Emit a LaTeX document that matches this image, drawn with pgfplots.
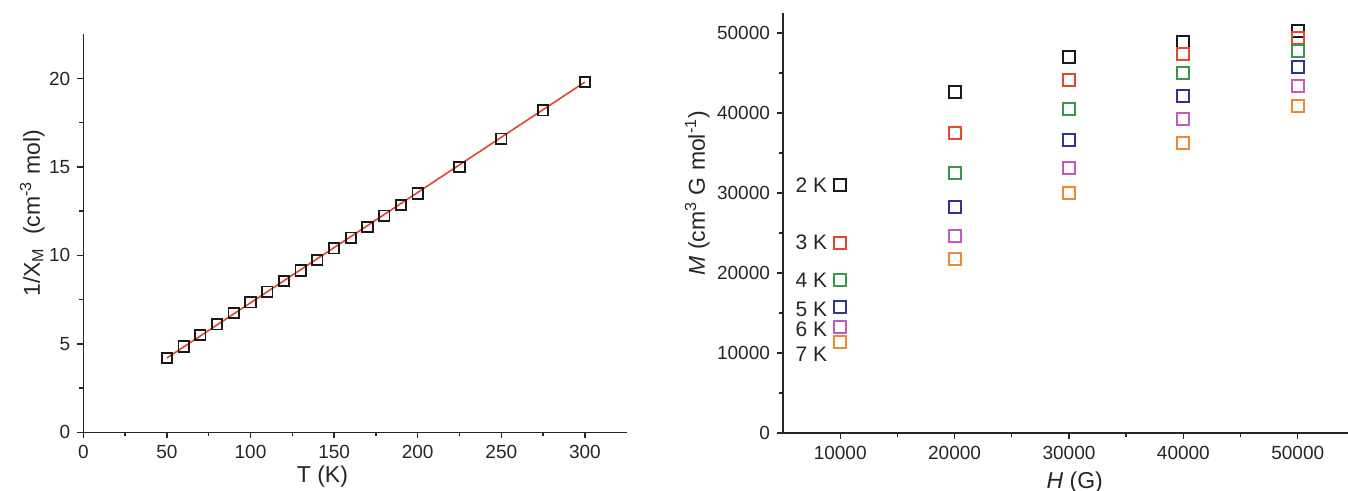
\documentclass[border=0pt]{standalone}
\usepackage{pgfplots}
\pgfplotsset{compat=1.18}
\usepackage{fontspec}
\setmainfont{Liberation Sans}
\definecolor{cblack}{RGB}{25,25,25}
\definecolor{cred}{RGB}{230,72,45}
\definecolor{cgreen}{RGB}{60,150,75}
\definecolor{cblue}{RGB}{50,50,150}
\definecolor{cpink}{RGB}{195,90,190}
\definecolor{corange}{RGB}{240,135,50}
\definecolor{fitred}{RGB}{225,70,45}
\pgfplotsset{
  myaxis/.style={
    scale only axis,
    axis x line=bottom, axis y line=left,
    axis line style={-, line width=0.75pt, color=black!85},
    every tick/.style={line width=0.7pt, color=black!85},
    major tick length=3pt, minor tick length=2pt,
    tick align=outside,
    tick label style={font=\fontsize{9.5}{11}\selectfont, color=black!85},
    label style={font=\fontsize{11.5}{13}\selectfont, color=black!85},
    /pgf/number format/assume math mode=true,
    /pgf/number format/1000 sep={},
    scaled ticks=false,
    clip=false,
  }
}
\begin{document}
\begin{tikzpicture}
\useasboundingbox (0,0) rectangle (674pt,245.5pt);
\begin{axis}[myaxis,
  at={(41.65pt,29.35pt)}, anchor=south west,
  width=271.7pt, height=199pt,
  xmin=0, xmax=325, ymin=0, ymax=22.5,
  xtick={0,50,...,300}, minor x tick num=1,
  ytick={0,5,...,20}, minor y tick num=1,
  xlabel={T (K)},
  ylabel={1/X\textsubscript{M}\ \ (cm\textsuperscript{-3} mol)},
  xlabel style={at={(axis description cs:0.44,-0.11)}, anchor=center},
  ylabel style={at={(axis description cs:-0.094,0.55)}, anchor=center},
]
\addplot[fitred, line width=0.8pt] coordinates {(50,4.2) (300,19.8)};
\addplot[only marks, mark=square, mark size=2.6pt, mark options={line width=0.9pt, draw=cblack}] coordinates {
(50,4.2) (60,4.85) (70,5.5) (80,6.1) (90,6.75) (100,7.35) (110,7.95) (120,8.55)
(130,9.15) (140,9.75) (150,10.4) (160,11.0) (170,11.6) (180,12.25) (190,12.85)
(200,13.5) (225,15.0) (250,16.6) (275,18.2) (300,19.8)};
\end{axis}

\begin{axis}[myaxis,
  at={(391.5pt,29pt)}, anchor=south west,
  width=291.7pt, height=210pt,
  xmin=5000, xmax=56000, ymin=0, ymax=52500,
  xtick={10000,20000,...,50000}, minor xtick={15000,25000,...,45000},
  ytick={0,10000,...,50000}, minor ytick={5000,15000,...,45000},
  xlabel={\textit{H} (G)},
  ylabel={\textit{M} (cm\textsuperscript{3} G mol\textsuperscript{-1})},
  xlabel style={at={(axis description cs:0.5,-0.118)}, anchor=center},
  ylabel style={at={(axis description cs:-0.147,0.571)}, anchor=center},
]
\addplot[only marks, mark=square, mark size=3pt, mark options={line width=1pt, draw=cblack}] coordinates {
(10000,31000) (20000,42600) (30000,47000) (40000,48900) (50000,50250)};
\addplot[only marks, mark=square, mark size=3pt, mark options={line width=1pt, draw=cred}] coordinates {
(10000,23700) (20000,37450) (30000,44150) (40000,47400) (50000,49400)};
\addplot[only marks, mark=square, mark size=3pt, mark options={line width=1pt, draw=cgreen}] coordinates {
(10000,19100) (20000,32550) (30000,40450) (40000,45050) (50000,47750)};
\addplot[only marks, mark=square, mark size=3pt, mark options={line width=1pt, draw=cblue}] coordinates {
(10000,15700) (20000,28200) (30000,36650) (40000,42100) (50000,45700)};
\addplot[only marks, mark=square, mark size=3pt, mark options={line width=1pt, draw=cpink}] coordinates {
(10000,13200) (20000,24650) (30000,33150) (40000,39200) (50000,43350)};
\addplot[only marks, mark=square, mark size=3pt, mark options={line width=1pt, draw=corange}] coordinates {
(10000,11400) (20000,21800) (30000,30050) (40000,36300) (50000,40850)};
\begin{scope}[every node/.style={anchor=east, font=\fontsize{10.5}{12}\selectfont, color=black!85, inner sep=0pt}]
\node at (axis cs:8900,31000) {2 K};
\node at (axis cs:8900,23800) {3 K};
\node at (axis cs:8900,19100) {4 K};
\node at (axis cs:8900,15500) {5 K};
\node at (axis cs:8900,13000) {6 K};
\node at (axis cs:8900,9900) {7 K};
\end{scope}
\end{axis}
\end{tikzpicture}
\end{document}
